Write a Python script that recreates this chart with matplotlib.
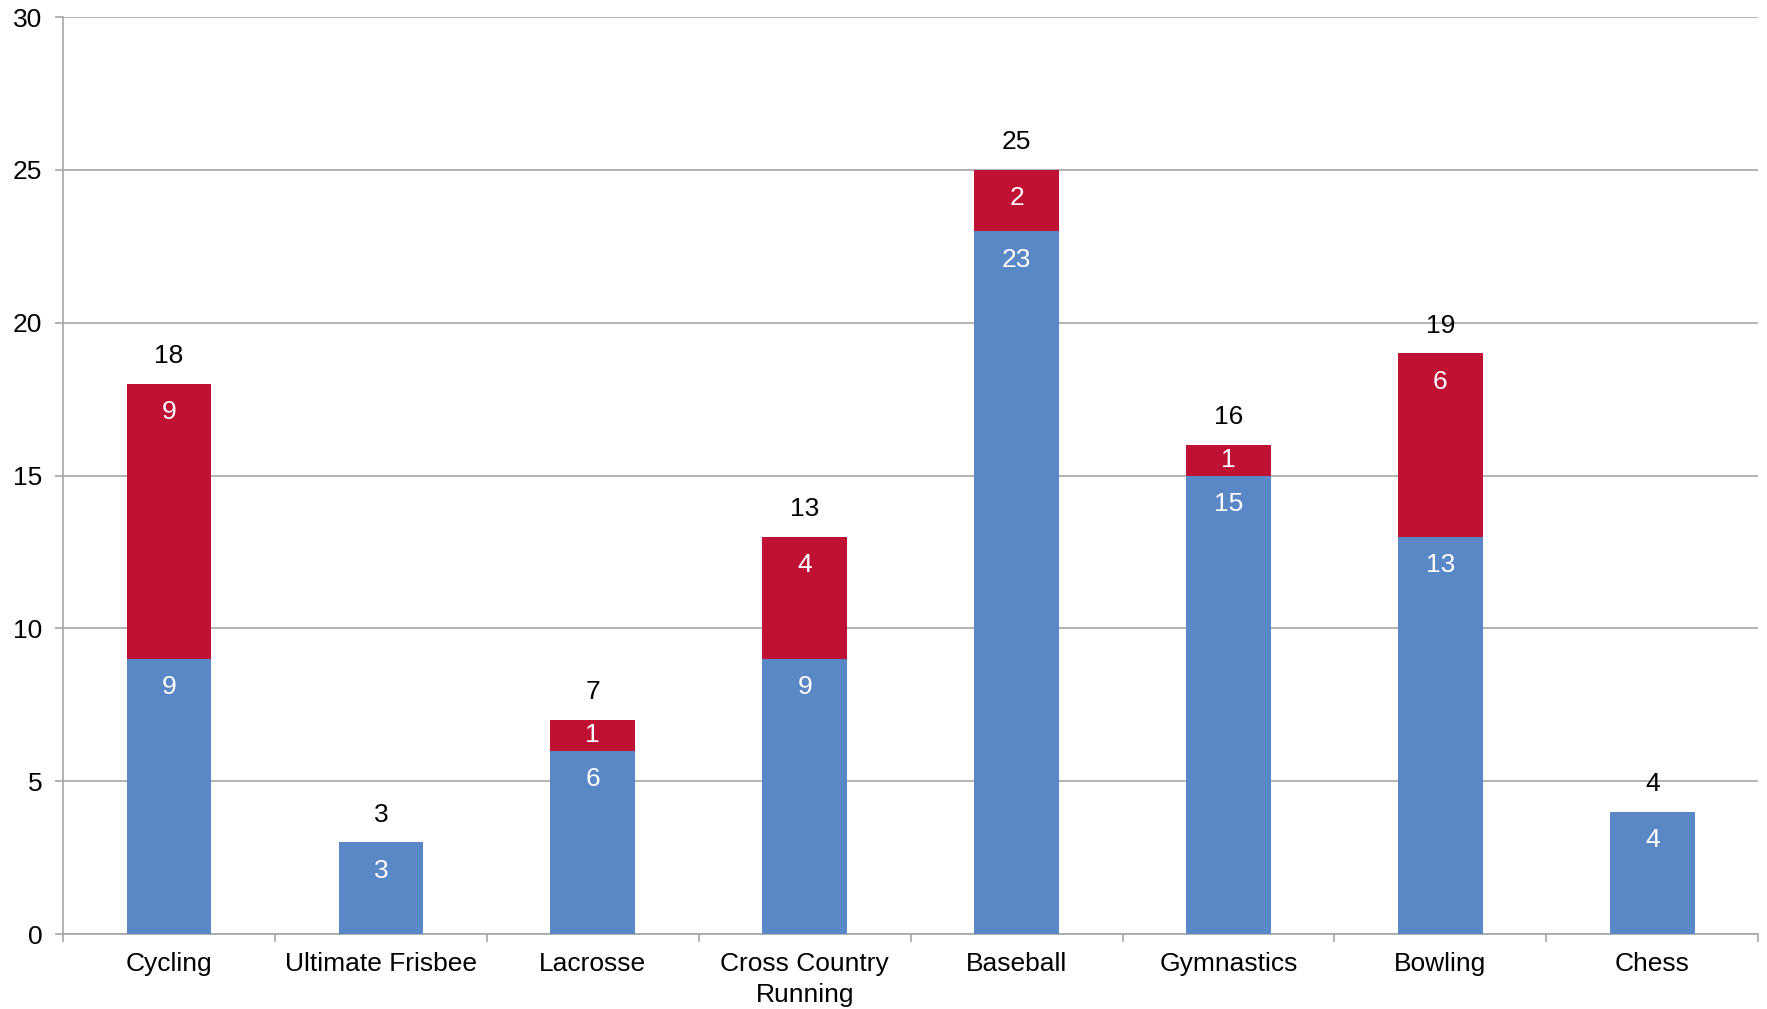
import numpy as np
import matplotlib.pyplot as plt

plt.rcParams['font.family'] = ['Liberation Sans', 'DejaVu Sans']

categories = ['Cycling', 'Ultimate Frisbee', 'Lacrosse', 'Cross Country\nRunning',
              'Baseball', 'Gymnastics', 'Bowling', 'Chess']
blue_vals = [9, 3, 6, 9, 23, 15, 13, 4]
red_vals = [9, 0, 1, 4, 2, 1, 6, 0]

BLUE = '#5A88C6'
RED = '#BE1134'
GRID = '#A6A6A6'
FS = 19

fig = plt.figure(figsize=(17.67, 10.09), dpi=100)
ax = fig.add_axes([0.0357, 0.0743, 0.9593, 0.9087])

x = np.arange(len(categories))
blue = np.array(blue_vals)
red = np.array(red_vals)
total = blue + red

ax.bar(x, blue, width=0.4, color=BLUE, zorder=3)
ax.bar(x, red, width=0.4, bottom=blue, color=RED, zorder=3)

ax.set_xlim(-0.5, len(x) - 0.5)
ax.set_ylim(0, 30)

# points per data unit on the y axis
pt_per_unit = (ax.transData.transform((0, 1))[1] - ax.transData.transform((0, 0))[1]) * 72 / fig.dpi
off = 20.5


def inside_label(xi, top, height):
    # label near the top of the segment, but kept inside short segments
    d = min(off, height * pt_per_unit / 2)
    ax.annotate(str(height), (xi, top), xytext=(0, -d), textcoords='offset points',
                ha='center', va='center', color='white', fontsize=FS, zorder=4)


for i in range(len(x)):
    inside_label(x[i], blue[i], blue[i])
    if red[i] > 0:
        inside_label(x[i], total[i], red[i])
    ax.annotate(str(total[i]), (x[i], total[i]), xytext=(0, 20), textcoords='offset points',
                ha='center', va='center', color='black', fontsize=FS, zorder=4)

ax.set_yticks(range(0, 31, 5))
ax.yaxis.grid(True, color=GRID, linewidth=1.2, zorder=0)

ax.set_xticks(x)
ax.set_xticklabels(categories, fontsize=FS, linespacing=1.35)
ax.set_xticks(np.arange(-0.5, len(x), 1), minor=True)
ax.tick_params(axis='x', which='major', length=0, pad=13)
ax.tick_params(axis='x', which='minor', length=6, color=GRID, width=1.2)
ax.tick_params(axis='y', length=6, color=GRID, width=1.2, labelsize=FS, pad=9)

for s in ['top', 'right']:
    ax.spines[s].set_visible(False)
for s in ['left', 'bottom']:
    ax.spines[s].set_color(GRID)
    ax.spines[s].set_linewidth(1.2)

fig.savefig('out.png', dpi=100)
